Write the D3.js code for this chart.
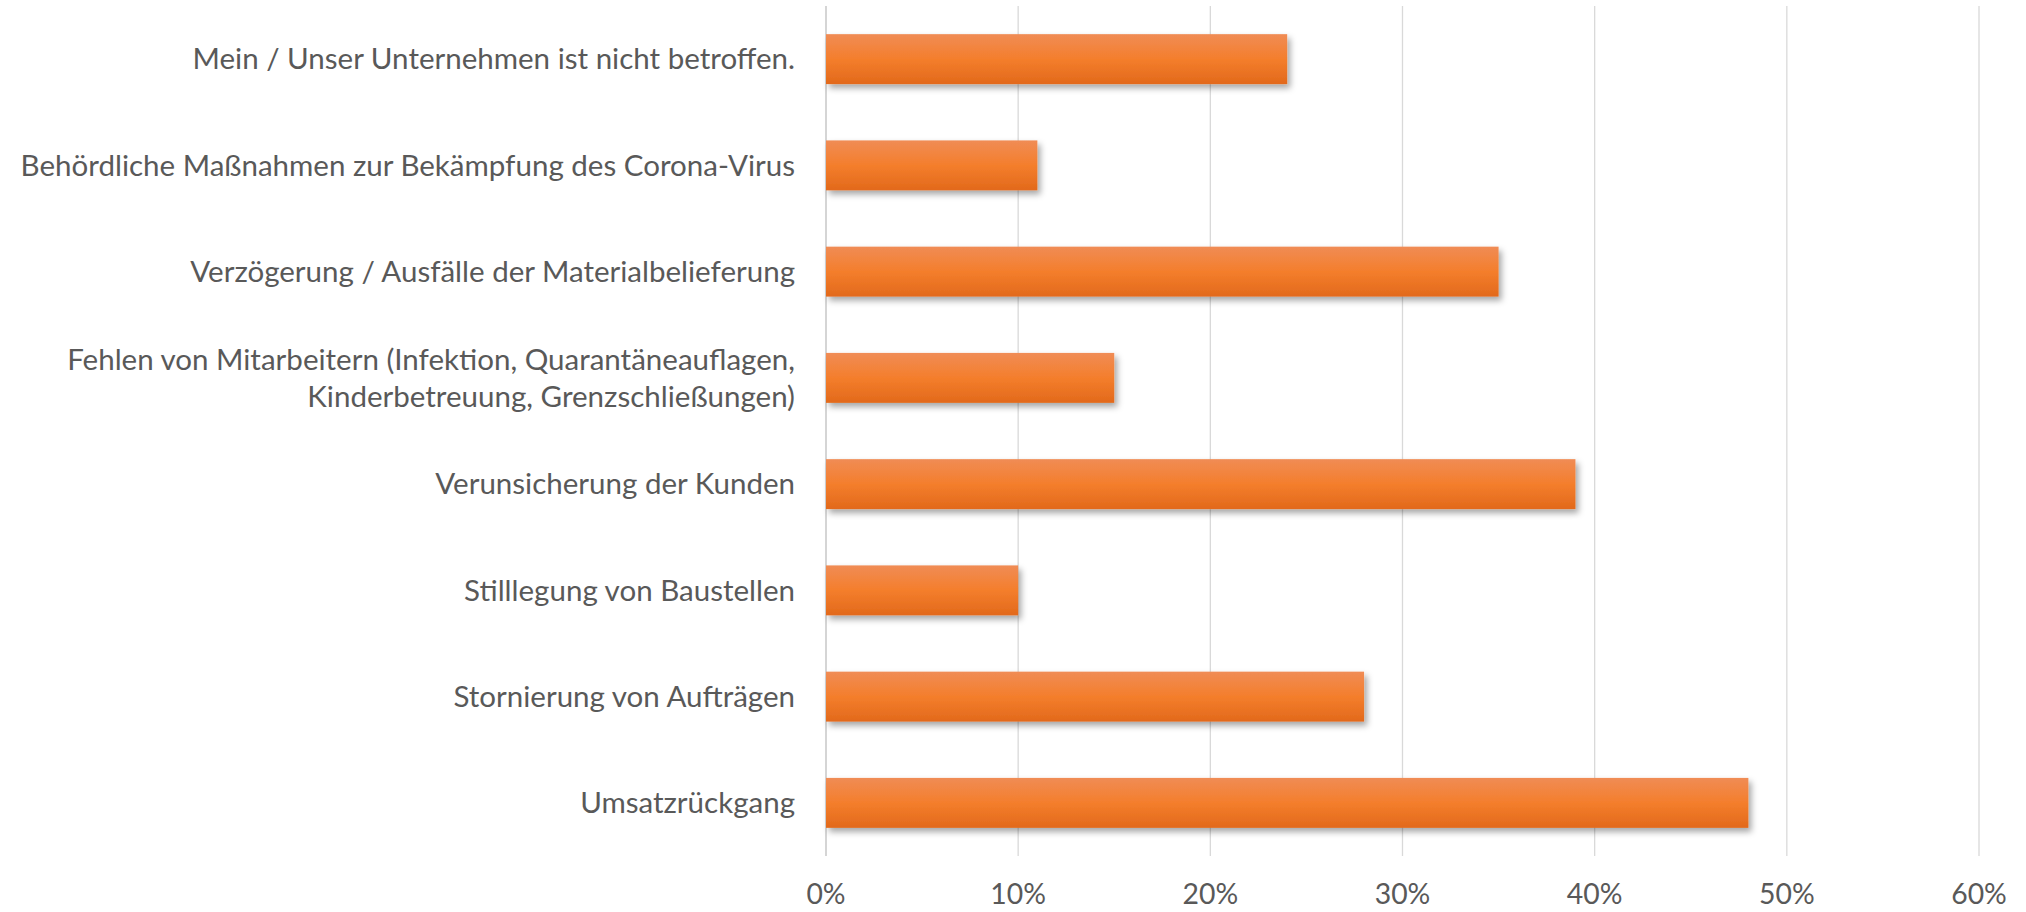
<!DOCTYPE html>
<html>
<head>
<meta charset="utf-8">
<script src="https://cdn.jsdelivr.net/npm/d3@7"></script>
<style>
  body { margin: 0; background: #fff; }
  svg { display: block; }
</style>
</head>
<body>
<div id="chart"></div>
<script>
// categories top to bottom, values in percent
var categories = [
    "Mein / Unser Unternehmen ist nicht betroffen.",
    "Behördliche Maßnahmen zur Bekämpfung des Corona-Virus",
    "Verzögerung / Ausfälle der Materialbelieferung",
    "Fehlen von Mitarbeitern (Infektion, Quarantäneauflagen,|Kinderbetreuung, Grenzschließungen)",
    "Verunsicherung der Kunden",
    "Stilllegung von Baustellen",
    "Stornierung von Aufträgen",
    "Umsatzrückgang"
];
var values = [24, 11, 35, 15, 39, 10, 28, 48];
var ticks = [0, 10, 20, 30, 40, 50, 60];

var width = 2026, height = 912;
var margin = {top: 6, right: 47, bottom: 56, left: 826};
var fontFam = "Lato, 'Open Sans', sans-serif";

var svg = d3.select("#chart").append("svg")
    .attr("width", width)
    .attr("height", height);

var defs = svg.append("defs");

var grad = defs.append("linearGradient")
    .attr("id", "barGrad")
    .attr("x1", 0).attr("y1", 0).attr("x2", 0).attr("y2", 1);
grad.append("stop").attr("offset", "0%").attr("stop-color", "#f08c55");
grad.append("stop").attr("offset", "50%").attr("stop-color", "#f47e2c");
grad.append("stop").attr("offset", "100%").attr("stop-color", "#e2691b");

var shadow = defs.append("filter")
    .attr("id", "shadow")
    .attr("x", "-5%").attr("y", "-20%")
    .attr("width", "110%").attr("height", "160%");
shadow.append("feDropShadow")
    .attr("dx", 3).attr("dy", 4)
    .attr("stdDeviation", 3)
    .attr("flood-color", "#000")
    .attr("flood-opacity", 0.35);

var x = d3.scaleLinear()
    .domain([0, 60])
    .range([margin.left, width - margin.right]);

var y = d3.scaleBand()
    .domain(categories)
    .range([margin.top, height - margin.bottom])
    .paddingInner(0.53)
    .paddingOuter(0.265);

// gridlines
svg.append("g")
    .selectAll("line")
    .data(ticks)
    .enter().append("line")
    .attr("x1", function (d) { return x(d); })
    .attr("x2", function (d) { return x(d); })
    .attr("y1", margin.top)
    .attr("y2", height - margin.bottom)
    .attr("stroke", function (d) { return d === 0 ? "#bfbfbf" : "#d9d9d9"; })
    .attr("stroke-width", 1.3);

// bars
svg.append("g")
    .selectAll("rect")
    .data(values)
    .enter().append("rect")
    .attr("x", x(0))
    .attr("y", function (d, i) { return y(categories[i]); })
    .attr("width", function (d) { return x(d) - x(0); })
    .attr("height", y.bandwidth())
    .attr("fill", "url(#barGrad)")
    .attr("filter", "url(#shadow)");

// category labels
var labelSize = 28;
var labels = svg.append("g")
    .selectAll("text")
    .data(categories)
    .enter().append("text")
    .attr("x", margin.left - 31)
    .attr("text-anchor", "end")
    .attr("font-family", fontFam)
    .attr("font-size", labelSize)
    .attr("fill", "#595959")
    .each(function (d) {
        var lines = d.split("|");
        var cy = y(d) + y.bandwidth() / 2;
        var lh = 37;
        var t = d3.select(this);
        lines.forEach(function (ln, k) {
            t.append("tspan")
                .attr("x", margin.left - 31)
                .attr("y", cy + (k - (lines.length - 1) / 2) * lh)
                .attr("dy", "0.35em")
                .text(ln);
        });
    });

// fit the longest label (Behördliche ...) to the reference width (~775px)
var widest = 0;
labels.each(function () { widest = Math.max(widest, this.getBBox().width); });
if (widest > 0) {
    labelSize = labelSize * 775 / widest;
    labels.attr("font-size", labelSize);
}

// x tick labels
svg.append("g")
    .selectAll("text")
    .data(ticks)
    .enter().append("text")
    .attr("x", function (d) { return x(d); })
    .attr("y", 904)
    .attr("text-anchor", "middle")
    .attr("font-family", fontFam)
    .attr("font-size", labelSize * 0.96)
    .attr("fill", "#595959")
    .text(function (d) { return d + "%"; });
</script>
</body>
</html>
